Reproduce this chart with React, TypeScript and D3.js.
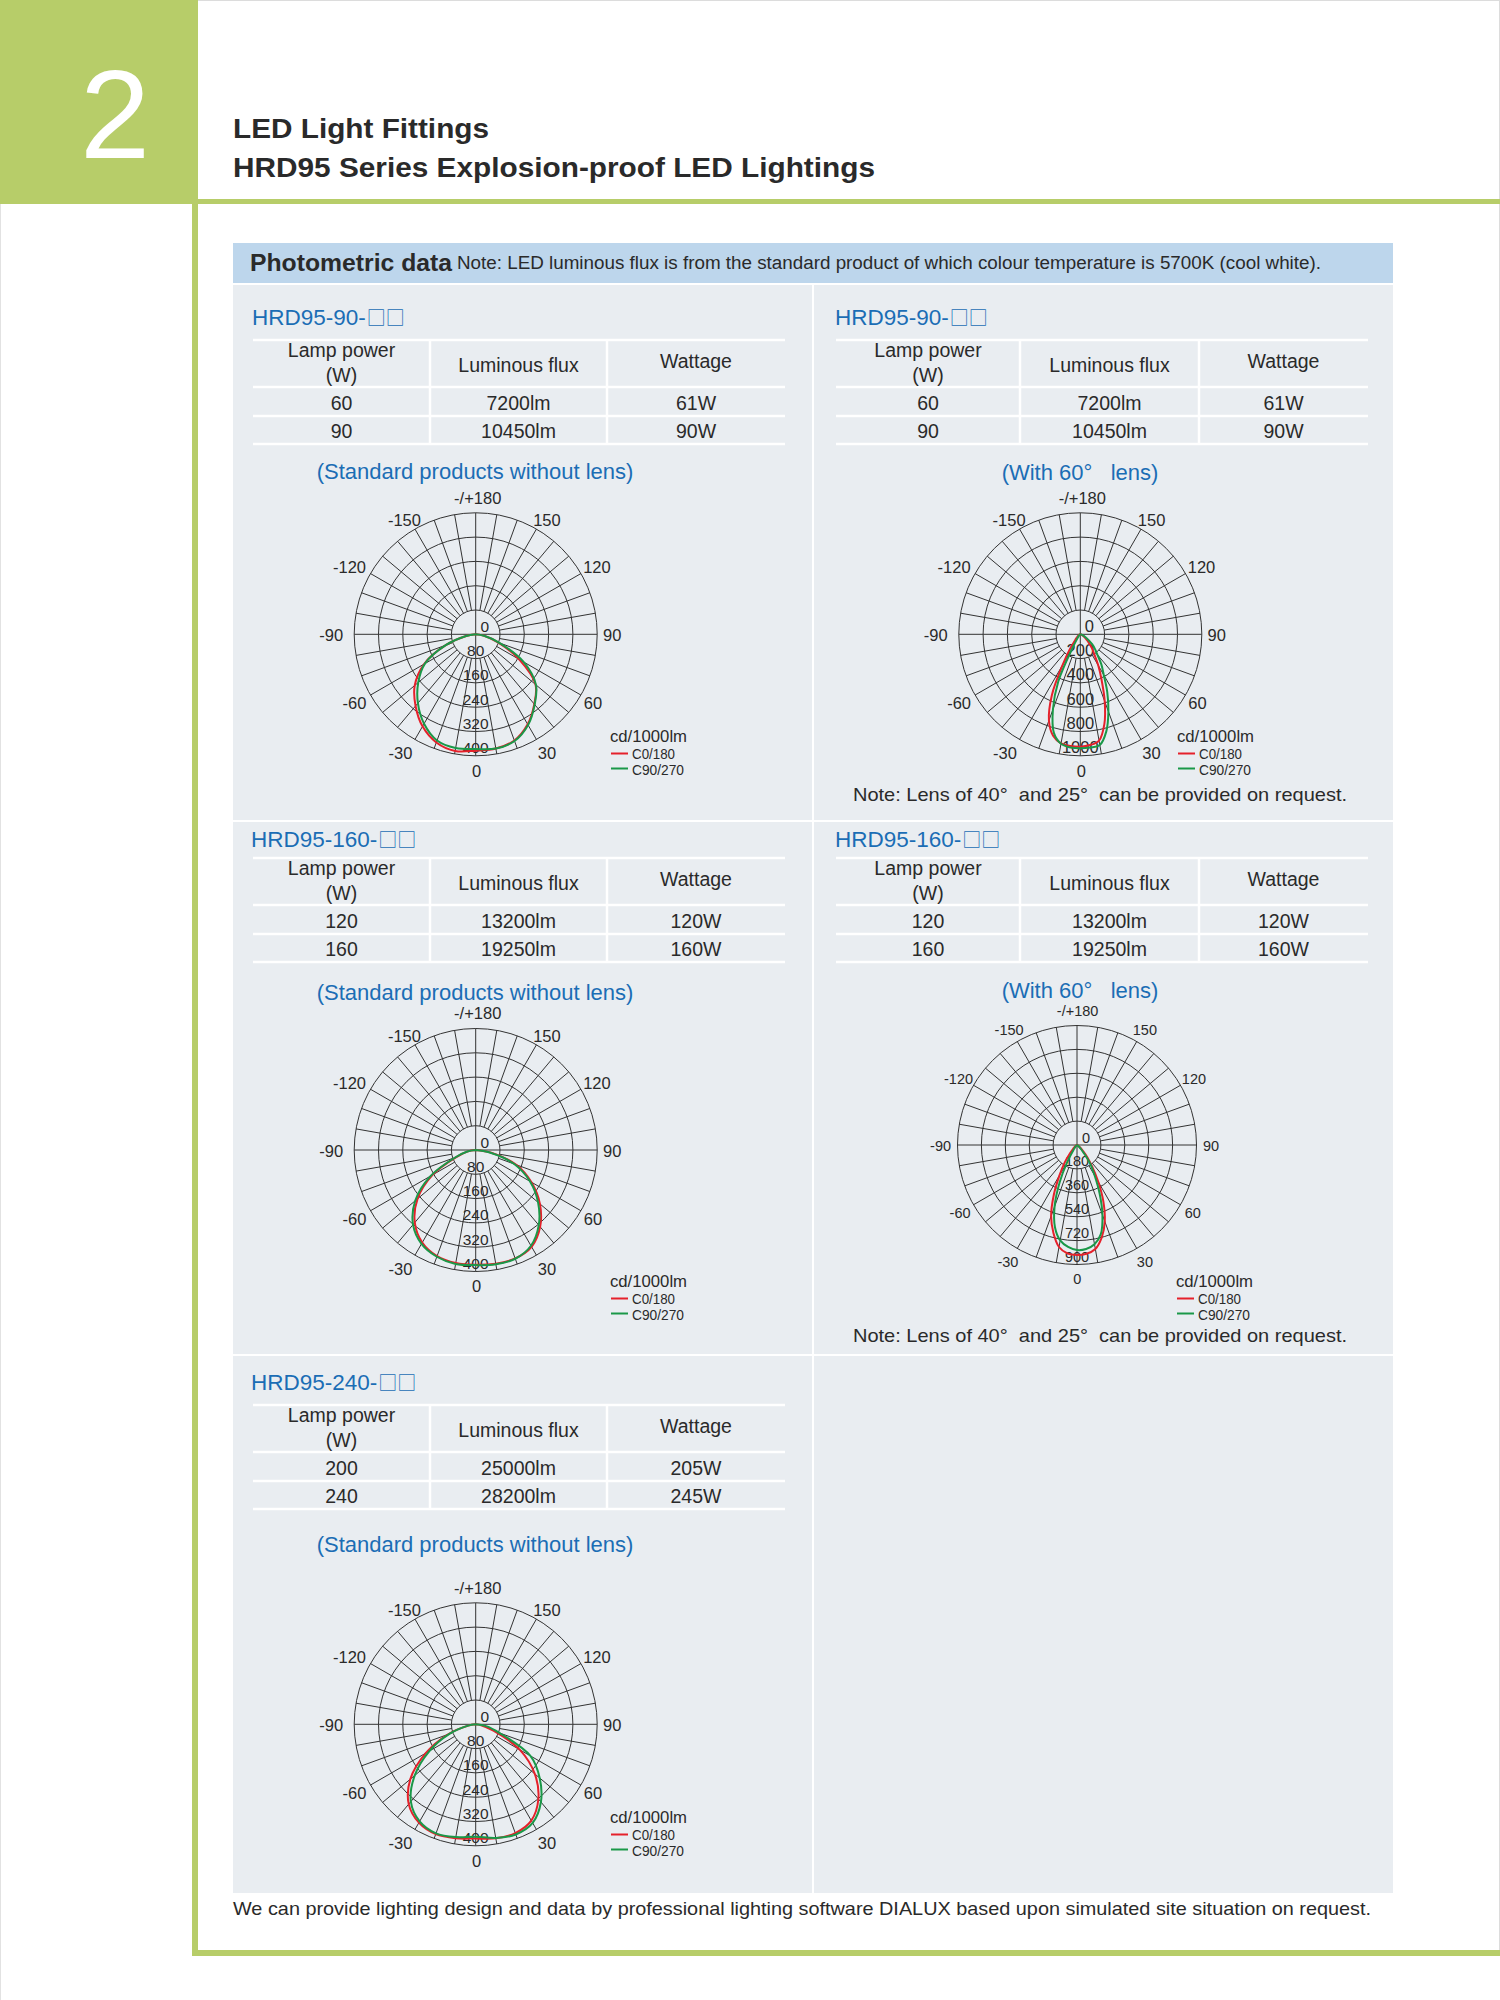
import React from 'react';
import * as d3 from 'd3';

// ---------- DATA ----------
const WIDE_ANGLES = [-90, -80, -70, -60, -50, -40, -30, -20, -10, 0, 10, 20, 30, 40, 50, 60, 70, 80, 90];
const BEAM_ANGLES = [-90, -75, -60, -50, -45, -40, -35, -30, -25, -20, -15, -10, -5, 0, 5, 10, 15, 20, 25, 30, 35, 40, 45, 50, 60, 75, 90];

// HRD95-90 standard (cd/1000lm)
const STD90_C0 = [0, 32, 105, 196, 262, 308, 350, 379, 390, 383, 382, 372, 342, 300, 257, 165, 78, 28, 0];
const STD90_C90 = [0, 32, 105, 193, 247, 296, 340, 372, 380, 378, 382, 374, 345, 302, 259, 182, 83, 28, 0];
// HRD95-90 with 60° lens
const LENS90_C0 = [0, 5, 15, 30, 45, 72, 150, 290, 555, 755, 865, 912, 922, 925, 915, 888, 765, 588, 415, 295, 200, 150, 100, 65, 28, 8, 0];
const LENS90_C90 = [0, 0, 5, 10, 15, 25, 45, 121, 429, 659, 840, 915, 935, 938, 935, 925, 827, 676, 525, 386, 302, 218, 170, 127, 55, 12, 0];
// HRD95-160 standard
const STD160_C0 = [0, 26, 68, 164, 250, 312, 352, 372, 378, 378, 380, 380, 368, 330, 276, 212, 142, 52, 0];
const STD160_C90 = [0, 28, 72, 172, 260, 321, 357, 374, 381, 379, 382, 381, 364, 323, 268, 206, 135, 47, 0];
// HRD95-160 with 60° lens
const LENS160_C0 = [0, 3, 10, 25, 45, 82, 164, 264, 413, 570, 686, 780, 820, 828, 822, 795, 720, 612, 470, 320, 198, 122, 62, 35, 12, 3, 0];
const LENS160_C90 = [0, 0, 0, 5, 10, 20, 50, 146, 309, 494, 641, 730, 771, 791, 786, 759, 694, 560, 403, 267, 174, 82, 40, 20, 5, 0, 0];
// HRD95-240 standard
const STD240_C0 = [0, 25, 98, 190, 281, 343, 374, 385, 381, 376, 381, 381, 366, 321, 254, 168, 62, 18, 0];
const STD240_C90 = [0, 25, 92, 176, 262, 332, 369, 382, 377, 370, 380, 386, 375, 334, 275, 208, 84, 35, 0];

const STD_RINGS = [0, 80, 160, 240, 320, 400];
const LENS90_RINGS = [0, 200, 400, 600, 800, 1000];
const LENS160_RINGS = [0, 180, 360, 540, 720, 900];

const ANGLE_TICKS = [180, 150, 120, 90, 60, 30, 0, -30, -60, -90, -120, -150];
const ANGLE_TICK_LABELS = ['-/+180', '150', '120', '90', '60', '30', '0', '-30', '-60', '-90', '-120', '-150'];

const TABLE_HEAD = ['Lamp power', '(W)', 'Luminous flux', 'Wattage'];
const HRD90_POWER = ['60', '90'];
const HRD90_FLUX = ['7200lm', '10450lm'];
const HRD90_WATT = ['61W', '90W'];
const HRD160_POWER = ['120', '160'];
const HRD160_FLUX = ['13200lm', '19250lm'];
const HRD160_WATT = ['120W', '160W'];
const HRD240_POWER = ['200', '240'];
const HRD240_FLUX = ['25000lm', '28200lm'];
const HRD240_WATT = ['205W', '245W'];

const LEGEND_UNIT = 'cd/1000lm';
const LEGEND_NAMES = ['C0/180', 'C90/270'];

// ---------- STYLE ----------
const FONT = "'Liberation Sans', Arial, Helvetica, sans-serif";
const CJK = "'Noto Sans CJK SC', 'DejaVu Sans', sans-serif";
const GREEN = '#b7cd69';
const BAND = '#bdd6ec';
const PANEL = '#e9edf1';
const BLUE = '#1b6db5';
const INK = '#2a2a2a';
const RED = '#e5212b';
const GRN = '#1a9848';
const GRID = '#333333';
// small typographic nudges of the angle labels (same order as ANGLE_TICKS)
const LABEL_DX = [2, 3, 3, 0, -1, 3, 1, -7, -3, -8, -8, -3];
const LABEL_DY = [0, 4, 1, 1, 1, 1, 0, 1, 1, 1, 1, 4];

type PolarProps = {
  cx: number; cy: number; R: number; rings: number[]; angles: number[];
  c0: number[]; c90: number[]; angleFont: number; radialFont: number; gap: number;
  lx: number; ly: number; nudge: number;
};

function Polar({ cx, cy, R, rings, angles, c0, c90, angleFont, radialFont, gap, lx, ly, nudge }: PolarProps) {
  const r = d3.scaleLinear().domain([0, rings[rings.length - 1]]).range([0, R]);
  const r1 = r(rings[1]);
  const spokes = d3.range(0, 360, 10);
  const rad = (g: number) => (g * Math.PI) / 180;
  const line = d3
    .lineRadial<[number, number]>()
    .angle((d) => Math.PI - rad(d[0]))
    .radius((d) => r(d[1]))
    .curve(d3.curveCatmullRom.alpha(0.5));
  const red = line(angles.map((a, i) => [a, c0[i]] as [number, number])) || '';
  const green = line(angles.map((a, i) => [a, c90[i]] as [number, number])) || '';
  return (
    <g>
      <g stroke={GRID} strokeWidth={1} fill="none">
        {rings.slice(1).map((v) => (
          <circle key={v} cx={cx} cy={cy} r={r(v)} />
        ))}
        {spokes.map((g) => {
          const inner = g % 90 === 0 ? 0 : r1;
          return (
            <line
              key={g}
              x1={cx + inner * Math.sin(rad(g))}
              y1={cy + inner * Math.cos(rad(g))}
              x2={cx + R * Math.sin(rad(g))}
              y2={cy + R * Math.cos(rad(g))}
            />
          );
        })}
      </g>
      <g fontFamily={FONT} fill={INK} fontSize={angleFont} textAnchor="middle">
        {ANGLE_TICKS.map((g, i) => (
          <text
            key={g}
            x={cx + (R + gap) * Math.sin(rad(g)) + LABEL_DX[i] * nudge}
            y={cy + (R + gap) * Math.cos(rad(g)) + LABEL_DY[i] * nudge}
            dy="0.36em"
          >
            {ANGLE_TICK_LABELS[i]}
          </text>
        ))}
      </g>
      <g fontFamily={FONT} fill={INK} fontSize={radialFont} textAnchor="middle">
        {rings.map((v) =>
          v === 0 ? (
            <text key={v} x={cx + 9} y={cy - 2}>{v}</text>
          ) : (
            <text key={v} x={cx} y={cy + r(v) - 2.5}>{v}</text>
          )
        )}
      </g>
      <g transform={`translate(${cx},${cy})`} fill="none" strokeWidth={2} strokeLinejoin="round">
        <path d={red} stroke={RED} />
        <path d={green} stroke={GRN} />
      </g>
      <g fontFamily={FONT} fill={INK}>
        <text x={lx} y={ly} fontSize={16} textLength={77} lengthAdjust="spacingAndGlyphs">{LEGEND_UNIT}</text>
        <line x1={lx + 1} x2={lx + 18} y1={ly + 11.5} y2={ly + 11.5} stroke={RED} strokeWidth={2} />
        <text x={lx + 22} y={ly + 17} fontSize={14} textLength={43} lengthAdjust="spacingAndGlyphs">{LEGEND_NAMES[0]}</text>
        <line x1={lx + 1} x2={lx + 18} y1={ly + 26.5} y2={ly + 26.5} stroke={GRN} strokeWidth={2} />
        <text x={lx + 22} y={ly + 33} fontSize={14} textLength={52} lengthAdjust="spacingAndGlyphs">{LEGEND_NAMES[1]}</text>
      </g>
    </g>
  );
}

type TableProps = { cols: number[]; top: number; power: string[]; flux: string[]; watt: string[] };

function SpecTable({ cols, top, power, flux, watt }: TableProps) {
  const mid = (i: number) => (cols[i] + cols[i + 1]) / 2;
  const rowsY = [top, top + 47, top + 76, top + 104];
  return (
    <g>
      <g stroke="#ffffff" strokeWidth={2.5}>
        {rowsY.map((y) => (
          <line key={y} x1={cols[0]} x2={cols[3]} y1={y} y2={y} />
        ))}
        {[cols[1], cols[2]].map((x) => (
          <line key={x} x1={x} x2={x} y1={top} y2={top + 104} />
        ))}
      </g>
      <g fontFamily={FONT} fill={INK} fontSize={19.5} textAnchor="middle">
        <text x={mid(0)} y={top + 17}>{TABLE_HEAD[0]}</text>
        <text x={mid(0)} y={top + 42}>{TABLE_HEAD[1]}</text>
        <text x={mid(1)} y={top + 32}>{TABLE_HEAD[2]}</text>
        <text x={mid(2)} y={top + 28}>{TABLE_HEAD[3]}</text>
        {power.map((p, i) => (
          <g key={p}>
            <text x={mid(0)} y={top + 70 + i * 28}>{p}</text>
            <text x={mid(1)} y={top + 70 + i * 28}>{flux[i]}</text>
            <text x={mid(2)} y={top + 70 + i * 28}>{watt[i]}</text>
          </g>
        ))}
      </g>
    </g>
  );
}

function ModelTitle({ x, y, name }: { x: number; y: number; name: string }) {
  return (
    <text x={x} y={y} fontFamily={FONT} fill={BLUE} fontSize={22.5}>
      {name}
      <tspan fontFamily={CJK} fontSize={19} dx={1}>□□</tspan>
    </text>
  );
}

const LEFT_COLS = [253, 430, 607, 785];
const RIGHT_COLS = [836, 1020, 1199, 1368];

export default function App() {
  const pre = { whiteSpace: 'pre' as const };
  return (
    <svg width={1500} height={2000} style={{ position: 'absolute', left: 0, top: 0, display: 'block' }}>
      <rect x={0} y={0} width={1500} height={2000} fill="#ffffff" />
      <line x1={198} y1={0.5} x2={1500} y2={0.5} stroke="#dcdcdc" />
      <line x1={1499.5} y1={0} x2={1499.5} y2={1950} stroke="#dcdcdc" />
      <line x1={0.5} y1={204} x2={0.5} y2={2000} stroke="#e2e2e2" />

      {/* green frame */}
      <rect x={0} y={0} width={198} height={204} fill={GREEN} />
      <rect x={198} y={199} width={1302} height={5} fill={GREEN} />
      <rect x={192} y={204} width={6} height={1752} fill={GREEN} />
      <rect x={192} y={1950} width={1308} height={6} fill={GREEN} />
      <text x={115} y={158} fontFamily={FONT} fontSize={126} fill="#ffffff" textAnchor="middle">2</text>

      <g fontFamily={FONT} fill={INK} fontWeight="bold" fontSize={28}>
        <text x={233} y={138} textLength={256} lengthAdjust="spacingAndGlyphs">LED Light Fittings</text>
        <text x={233} y={177} textLength={642} lengthAdjust="spacingAndGlyphs">HRD95 Series Explosion-proof LED Lightings</text>
      </g>

      {/* header band */}
      <rect x={233} y={243} width={1160} height={40} fill={BAND} />
      <text x={250} y={271} fontFamily={FONT} fontWeight="bold" fontSize={23} fill={INK} textLength={202} lengthAdjust="spacingAndGlyphs">Photometric data</text>
      <text x={457} y={269} fontFamily={FONT} fontSize={18} fill={INK} textLength={864} lengthAdjust="spacingAndGlyphs">Note: LED luminous flux is from the standard product of which colour temperature is 5700K (cool white).</text>

      {/* panel */}
      <rect x={233} y={285} width={1160} height={1608} fill={PANEL} />
      <rect x={812} y={285} width={2} height={1608} fill="#ffffff" />
      <rect x={233} y={820} width={1160} height={2} fill="#ffffff" />
      <rect x={233} y={1354} width={1160} height={2} fill="#ffffff" />

      {/* titles */}
      <ModelTitle x={252} y={325} name="HRD95-90-" />
      <ModelTitle x={835} y={325} name="HRD95-90-" />
      <ModelTitle x={251} y={847} name="HRD95-160-" />
      <ModelTitle x={835} y={847} name="HRD95-160-" />
      <ModelTitle x={251} y={1390} name="HRD95-240-" />

      <SpecTable cols={LEFT_COLS} top={340} power={HRD90_POWER} flux={HRD90_FLUX} watt={HRD90_WATT} />
      <SpecTable cols={RIGHT_COLS} top={340} power={HRD90_POWER} flux={HRD90_FLUX} watt={HRD90_WATT} />
      <SpecTable cols={LEFT_COLS} top={858} power={HRD160_POWER} flux={HRD160_FLUX} watt={HRD160_WATT} />
      <SpecTable cols={RIGHT_COLS} top={858} power={HRD160_POWER} flux={HRD160_FLUX} watt={HRD160_WATT} />
      <SpecTable cols={LEFT_COLS} top={1405} power={HRD240_POWER} flux={HRD240_FLUX} watt={HRD240_WATT} />

      {/* subtitles */}
      <g fontFamily={FONT} fill={BLUE} fontSize={22} textAnchor="middle">
        <text x={475} y={479}>(Standard products without lens)</text>
        <text x={1080} y={480} style={pre}>(With 60°   lens)</text>
        <text x={475} y={1000}>(Standard products without lens)</text>
        <text x={1080} y={998} style={pre}>(With 60°   lens)</text>
        <text x={475} y={1552}>(Standard products without lens)</text>
      </g>

      <Polar cx={475.7} cy={634.3} R={121.5} rings={STD_RINGS} angles={WIDE_ANGLES} c0={STD90_C0} c90={STD90_C90}
        angleFont={16.5} radialFont={15.5} gap={15} lx={610} ly={742} nudge={1} />
      <Polar cx={1080.3} cy={634.3} R={121.5} rings={LENS90_RINGS} angles={BEAM_ANGLES} c0={LENS90_C0} c90={LENS90_C90}
        angleFont={16.5} radialFont={16.5} gap={15} lx={1177} ly={742} nudge={1} />
      <Polar cx={475.7} cy={1150} R={121.5} rings={STD_RINGS} angles={WIDE_ANGLES} c0={STD160_C0} c90={STD160_C90}
        angleFont={16.5} radialFont={15.5} gap={15} lx={610} ly={1287} nudge={1} />
      <Polar cx={1077} cy={1145} R={119.5} rings={LENS160_RINGS} angles={BEAM_ANGLES} c0={LENS160_C0} c90={LENS160_C90}
        angleFont={14.5} radialFont={14.5} gap={14.5} lx={1176} ly={1287} nudge={0.3} />
      <Polar cx={475.7} cy={1724.3} R={121.5} rings={STD_RINGS} angles={WIDE_ANGLES} c0={STD240_C0} c90={STD240_C90}
        angleFont={16.5} radialFont={15.5} gap={15} lx={610} ly={1823} nudge={1} />

      {/* notes */}
      <g fontFamily={FONT} fill={INK} fontSize={19}>
        <text x={853} y={801} textLength={494} lengthAdjust="spacingAndGlyphs" style={pre}>Note: Lens of 40°  and 25°  can be provided on request.</text>
        <text x={853} y={1342} textLength={494} lengthAdjust="spacingAndGlyphs" style={pre}>Note: Lens of 40°  and 25°  can be provided on request.</text>
      </g>
      <text x={233} y={1915} fontFamily={FONT} fill={INK} fontSize={18.5} textLength={1138} lengthAdjust="spacingAndGlyphs">We can provide lighting design and data by professional lighting software DIALUX based upon simulated site situation on request.</text>
    </svg>
  );
}
